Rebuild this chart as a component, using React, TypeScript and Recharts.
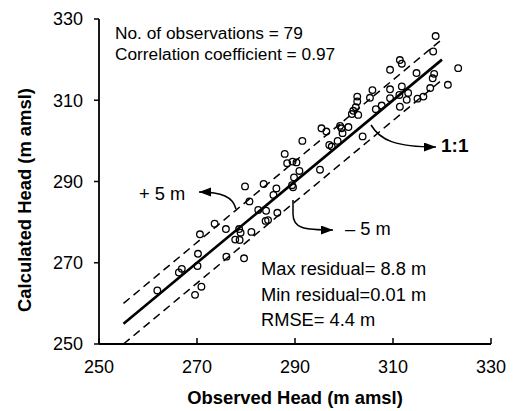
import { ReferenceLine, Scatter, ScatterChart, XAxis, YAxis } from 'recharts';

// observed vs calculated head (m amsl)
const observed = [
  261.9, 266.3, 266.9, 270.1, 270.2, 270.6, 273.6, 275.9, 270.9, 269.6, 276.0,
  277.8, 278.7, 278.6, 278.9, 279.6, 281.1, 279.8, 280.7, 282.5, 284.0, 284.5,
  283.6, 284.1, 285.6, 286.2, 286.4, 289.6, 289.8, 290.9, 288.4, 289.5, 290.3,
  287.9, 291.5, 295.1, 295.4, 296.4, 297.0, 297.5, 298.7, 299.2, 299.7, 300.9,
  301.6, 302.9, 302.4, 302.7, 303.8, 311.4, 311.8, 309.4, 314.8, 318.2, 318.4,
  318.1, 317.6, 316.2, 315.0, 313.1, 312.8, 311.8, 311.3, 311.4, 309.4, 309.4,
  305.8, 305.3, 307.7, 306.5, 318.7, 323.3, 321.2, 289.4, 301.9, 299.5, 302.7,
];
const calculated = [
  263.2, 267.6, 268.5, 269.2, 272.2, 277.0, 279.6, 278.3, 264.1, 262.1, 271.5,
  275.7, 275.6, 278.3, 277.4, 271.1, 277.6, 288.8, 285.1, 283.0, 280.3, 280.5,
  289.4, 282.8, 286.7, 288.3, 282.3, 288.6, 291.0, 292.6, 294.5, 294.9, 294.7,
  296.8, 300.0, 292.9, 303.1, 302.3, 299.0, 298.6, 300.0, 303.7, 301.9, 303.4,
  306.6, 306.4, 308.3, 310.9, 301.1, 319.9, 319.0, 317.5, 316.7, 322.0, 316.5,
  315.4, 313.0, 310.9, 310.4, 311.8, 310.1, 313.4, 311.3, 308.4, 312.7, 310.5,
  312.5, 310.6, 308.7, 307.8, 325.8, 317.9, 313.8, 289.1, 307.4, 303.1, 309.7,
];

const ticks = [250, 270, 290, 310, 330];
const lineStart = 255;
const lineEnd = 320;
const band = 5;

const data = observed.map((x, i) => ({ x, y: calculated[i] }));

const font = "'Liberation Sans', Arial, sans-serif";

function XTick({ x, y, payload }: any) {
  return (
    <g>
      <line x1={x} x2={x} y1={y} y2={y - 6} stroke="#000" strokeWidth={1.5} />
      <text x={x} y={y + 29} textAnchor="middle" fontSize={18} fontFamily={font} fill="#000">
        {payload.value}
      </text>
    </g>
  );
}

function Ring({ cx, cy }: any) {
  return <circle cx={cx} cy={cy} r={3.3} fill="none" stroke="#000" strokeWidth={1.3} />;
}

export default function App() {
  const note = { fontSize: 18.3, fontFamily: font, fill: '#000' };
  const bold = { fontSize: 18.4, fontFamily: font, fill: '#000', fontWeight: 700 };
  return (
    <div style={{ position: 'absolute', left: 0, top: 0, width: 513, height: 411, background: '#fff' }}>
      <ScatterChart width={513} height={411} margin={{ top: 19, right: 22, bottom: 0, left: 0 }}>
        <XAxis
          type="number"
          dataKey="x"
          domain={[250, 330]}
          ticks={ticks}
          height={67}
          tickSize={0}
          tickMargin={0}
          tick={<XTick />}
          axisLine={{ stroke: '#000', strokeWidth: 1.8 }}
        />
        <YAxis
          type="number"
          dataKey="y"
          domain={[250, 330]}
          ticks={ticks}
          width={99}
          tickSize={5}
          tickMargin={11}
          tick={{ fill: '#000', fontSize: 18, fontFamily: font }}
          tickLine={{ stroke: '#000', strokeWidth: 1.5 }}
          axisLine={{ stroke: '#000', strokeWidth: 1.8 }}
        />
        <ReferenceLine
          segment={[{ x: lineStart, y: lineStart + band }, { x: lineEnd, y: lineEnd + band }]}
          stroke="#000"
          strokeWidth={1.5}
          strokeDasharray="8 5"
        />
        <ReferenceLine
          segment={[{ x: lineStart, y: lineStart - band }, { x: lineEnd, y: lineEnd - band }]}
          stroke="#000"
          strokeWidth={1.5}
          strokeDasharray="8 5"
        />
        <ReferenceLine
          segment={[{ x: lineStart, y: lineStart }, { x: lineEnd, y: lineEnd }]}
          stroke="#000"
          strokeWidth={2.6}
        />
        <Scatter data={data} shape={<Ring />} isAnimationActive={false} />
      </ScatterChart>

      <svg width={513} height={411} style={{ position: 'absolute', left: 0, top: 0, pointerEvents: 'none' }}>
        <defs>
          <marker id="head" markerUnits="userSpaceOnUse" markerWidth={13} markerHeight={10} refX={12} refY={4.5} orient="auto">
            <path d="M0,0 L12,4.5 L0,9 z" fill="#000" />
          </marker>
        </defs>
        <text x={115} y={39} {...note} fontSize={17.3}>No. of observations = 79</text>
        <text x={115} y={59.5} {...note} fontSize={17.3}>Correlation coefficient = 0.97</text>
        <text x={261} y={275} {...note}>Max residual= 8.8 m</text>
        <text x={261} y={300.5} {...note}>Min residual=0.01 m</text>
        <text x={261} y={326} {...note}>RMSE= 4.4 m</text>
        <text x={139} y={200} {...note}>+ 5 m</text>
        <text x={345} y={235} {...note}>{'\u2013 5 m'}</text>
        <text x={441} y={152} {...bold} fontSize={19}>1:1</text>

        <path d="M371,125 C380,140 395,147 436,147" fill="none" stroke="#000" strokeWidth={1.5} markerEnd="url(#head)" />
        <path d="M236,209 C233,197 222,192 199,192" fill="none" stroke="#000" strokeWidth={1.5} markerEnd="url(#head)" />
        <path d="M293,200 L293,214 C293,228 303,230 333,230" fill="none" stroke="#000" strokeWidth={1.5} markerEnd="url(#head)" />

        <text x={295} y={404} textAnchor="middle" {...bold}>Observed Head (m amsl)</text>
        <text transform="translate(31,200) rotate(-90)" textAnchor="middle" {...bold}>Calculated Head (m amsl)</text>
      </svg>
    </div>
  );
}
